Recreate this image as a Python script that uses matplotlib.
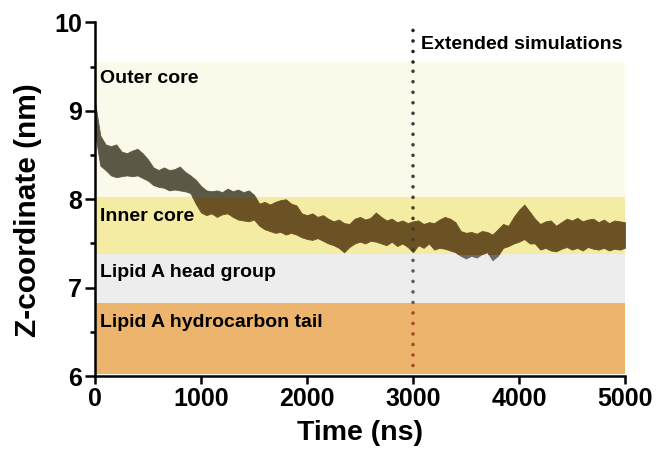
import numpy as np
from matplotlib import pyplot as plt
from matplotlib.patches import Rectangle

plt.rcParams['font.family'] = ['Liberation Sans', 'DejaVu Sans']
plt.rcParams['font.weight'] = 'bold'

# время (нс) и огибающие шумного следа Z-координаты
time_ns = list(range(0, 5001, 50))
z_upper = [9.10, 8.72, 8.62, 8.60, 8.62, 8.54, 8.52, 8.55, 8.57, 8.52,
           8.45, 8.36, 8.33, 8.36, 8.33, 8.34, 8.37, 8.31, 8.27, 8.22,
           8.15, 8.10, 8.09, 8.10, 8.08, 8.12, 8.09, 8.11, 8.08, 8.10,
           8.05, 7.95, 7.97, 7.94, 7.97, 7.99, 8.00, 7.95, 7.93, 7.84,
           7.82, 7.84, 7.80, 7.82, 7.78, 7.75, 7.77, 7.73, 7.72, 7.78,
           7.80, 7.77, 7.79, 7.85, 7.80, 7.76, 7.78, 7.74, 7.76, 7.73,
           7.75, 7.76, 7.72, 7.74, 7.73, 7.77, 7.80, 7.78, 7.74, 7.64,
           7.62, 7.63, 7.61, 7.64, 7.63, 7.60, 7.66, 7.72, 7.70, 7.80,
           7.88, 7.94, 7.86, 7.78, 7.72, 7.75, 7.76, 7.70, 7.74, 7.78,
           7.76, 7.79, 7.75, 7.77, 7.78, 7.74, 7.77, 7.73, 7.76, 7.75,
           7.74]
z_lower = [8.75, 8.38, 8.33, 8.27, 8.25, 8.26, 8.27, 8.26, 8.27, 8.24,
           8.21, 8.16, 8.14, 8.13, 8.10, 8.11, 8.10, 8.09, 8.07, 7.95,
           7.85, 7.82, 7.84, 7.80, 7.83, 7.84, 7.80, 7.77, 7.76, 7.75,
           7.77, 7.70, 7.66, 7.64, 7.62, 7.63, 7.60, 7.62, 7.60, 7.57,
           7.55, 7.54, 7.56, 7.53, 7.50, 7.48, 7.45, 7.40, 7.46, 7.50,
           7.52, 7.50, 7.53, 7.52, 7.50, 7.48, 7.52, 7.47, 7.50, 7.46,
           7.40, 7.48, 7.45, 7.50, 7.43, 7.45, 7.44, 7.42, 7.40, 7.36,
           7.33, 7.36, 7.34, 7.38, 7.40, 7.31, 7.36, 7.45, 7.47, 7.50,
           7.52, 7.55, 7.50, 7.50, 7.43, 7.45, 7.42, 7.41, 7.44, 7.46,
           7.43, 7.45, 7.42, 7.46, 7.44, 7.43, 7.45, 7.42, 7.44, 7.43,
           7.45]

# области мембраны: (низ, верх, подпись, заливка, цвет следа, цвет точек)
regions = [
    (6.02, 6.83, 'Lipid A hydrocarbon tail', '#EDB46D', '#8A5A2A', '#A5481E'),
    (6.83, 7.38, 'Lipid A head group', '#EDEDED', '#6A6A6A', '#5E5E5E'),
    (7.38, 8.02, 'Inner core', '#F5ECA3', '#6B5225', '#4A3C22'),
    (8.02, 9.55, 'Outer core', '#FBFAEA', '#5C5846', '#3E3E3E'),
]
label_y = {'Lipid A hydrocarbon tail': 6.55, 'Lipid A head group': 7.12,
           'Inner core': 7.75, 'Outer core': 9.31}
extended_start = 3000
dots = (0, (0.01, 2.9))

fig = plt.figure(figsize=(6.57, 4.58), dpi=100)
ax = fig.add_axes([0.1446, 0.179, 0.8067, 0.772])
ax.set_xlim(0, 5000)
ax.set_ylim(6, 10)

t = np.array(time_ns)
for lo, hi, name, face, trace_col, dot_col in regions:
    ax.add_patch(Rectangle((0, lo), 5000, hi - lo, facecolor=face,
                           edgecolor='none', zorder=1))
    clip = Rectangle((-100, lo), 5200, hi - lo, transform=ax.transData)
    band = ax.fill_between(t, z_lower, z_upper, color=trace_col,
                           linewidth=0.6, zorder=2)
    band.set_clip_path(clip)
    vl, = ax.plot([extended_start, extended_start], [6, 10], color=dot_col,
                  linewidth=2.6, linestyle=dots,
                  dash_capstyle='round', zorder=3)
    vl.set_clip_path(clip)
    ax.text(45, label_y[name], name, fontsize=14, fontweight='bold',
            va='baseline', ha='left', zorder=4)

# часть пунктира над цветными областями
top, = ax.plot([extended_start, extended_start], [9.55, 10], color='#222222',
               linewidth=2.6, linestyle=dots,
               dash_capstyle='round', zorder=3, clip_on=False)
ax.text(3080, 9.70, 'Extended simulations', fontsize=14, fontweight='bold',
        va='baseline', ha='left')

for side in ['top', 'right']:
    ax.spines[side].set_visible(False)
for side in ['left', 'bottom']:
    ax.spines[side].set_linewidth(1.8)
    ax.spines[side].set_zorder(5)

ax.set_xticks([0, 1000, 2000, 3000, 4000, 5000])
ax.set_yticks([6, 7, 8, 9, 10])
ax.set_yticks([6.5, 7.5, 8.5, 9.5], minor=True)
ax.tick_params(axis='both', which='major', width=1.8, labelsize=18, pad=2)
ax.tick_params(axis='y', which='major', length=7.5)
ax.tick_params(axis='x', which='major', length=6)
ax.tick_params(axis='y', which='minor', width=1.8, length=3.8)
for lab in ax.get_xticklabels() + ax.get_yticklabels():
    lab.set_fontweight('bold')

ax.set_xlabel('Time (ns)', fontsize=20.5, fontweight='bold')
ax.set_ylabel('Z-coordinate (nm)', fontsize=21.5, fontweight='bold')
ax.xaxis.set_label_coords(0.5, -0.125)
ax.yaxis.set_label_coords(-0.10, 0.47)

fig.savefig('out.png', dpi=100)
